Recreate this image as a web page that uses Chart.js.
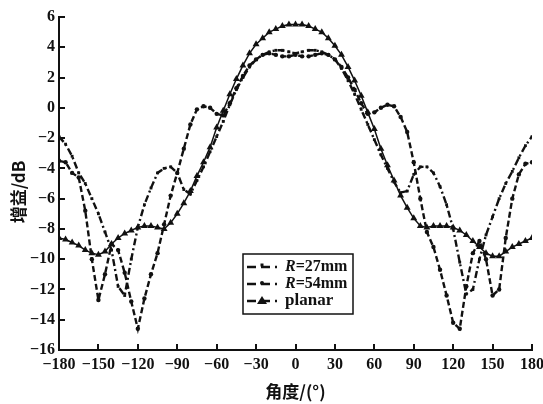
<!DOCTYPE html>
<html>
<head>
<meta charset="utf-8">
<script src="https://cdn.jsdelivr.net/npm/chart.js@4.4.1/dist/chart.umd.min.js"></script>
<style>
  html, body { margin: 0; padding: 0; background: #fff; }
  #wrap { width: 543px; height: 404px; }
</style>
</head>
<body>
<div id="wrap"><canvas id="gainChart" width="543" height="404"></canvas></div>
<script>
/* ── data ── */
const angles = [
  -180, -175, -170, -165, -160, -155, -150, -145, -140, -135, -130, -125,
  -120, -115, -110, -105, -100,  -95,  -90,  -85,  -80,  -75,  -70,  -65,
   -60,  -55,  -50,  -45,  -40,  -35,  -30,  -25,  -20,  -15,  -10,   -5,
     0,    5,   10,   15,   20,   25,   30,   35,   40,   45,   50,   55,
    60,   65,   70,   75,   80,   85,   90,   95,  100,  105,  110,  115,
   120,  125,  130,  135,  140,  145,  150,  155,  160,  165,  170,  175, 180
];

const gainR27 = [
  -1.9, -2.4, -3.2, -4.3, -5.0, -6.0, -7.0, -8.2, -9.4, -11.8, -12.4, -10.0,
  -7.9, -6.4, -5.3, -4.3, -4.0, -3.9, -4.3, -5.4, -5.7, -4.8, -3.9, -2.9,
  -1.9, -0.9,  0.2,  1.2,  2.0,  2.7,  3.2,  3.5,  3.7,  3.8,  3.8,  3.7,
   3.6,  3.7,  3.8,  3.8,  3.7,  3.5,  3.2,  2.6,  1.8,  0.9, -0.1, -1.1,
  -2.1, -3.1, -4.0, -4.9, -5.6, -5.5, -4.4, -3.9, -3.9, -4.3, -5.2, -6.4,
  -8.0, -10.2, -12.3, -12.0, -10.0, -8.4, -7.2, -6.0, -5.0, -4.2, -3.3, -2.5, -1.9
];

const gainR54 = [
  -3.5, -3.6, -4.3, -4.6, -6.8, -10.0, -12.7, -11.0, -9.0, -9.4, -10.9, -12.8,
  -14.6, -12.6, -11.0, -9.6, -7.7, -5.8, -4.3, -2.7, -1.1, -0.1,  0.1,  0.0,
  -0.4, -0.5,  0.3,  1.3,  2.1,  2.8,  3.2,  3.5,  3.6,  3.5,  3.4,  3.4,
   3.5,  3.4,  3.4,  3.5,  3.6,  3.5,  3.2,  2.7,  2.0,  1.2,  0.3, -0.4,
  -0.3,  0.0,  0.2,  0.1, -0.6, -1.6, -3.6, -6.0, -8.2, -9.2, -10.7, -12.4,
  -14.2, -14.6, -11.8, -9.6, -8.8, -10.0, -12.4, -12.0, -8.6, -6.0, -4.4, -3.7, -3.6
];

const gainPlanar = [
  -8.6, -8.7, -8.9, -9.1, -9.4, -9.6, -9.7, -9.5, -9.0, -8.6, -8.3, -8.1,
  -7.9, -7.8, -7.8, -7.9, -8.0, -7.6, -7.0, -6.3, -5.5, -4.5, -3.6, -2.6,
  -1.3, -0.2,  0.9,  1.9,  2.8,  3.6,  4.2,  4.6,  5.0,  5.2,  5.4,  5.5,
   5.5,  5.5,  5.4,  5.2,  5.0,  4.6,  4.1,  3.5,  2.7,  1.8,  0.8, -0.3,
  -1.4, -2.7, -3.8, -4.8, -5.8, -6.6, -7.3, -7.8, -7.9, -7.8, -7.8, -7.8,
  -7.9, -8.1, -8.4, -8.8, -9.2, -9.6, -9.8, -9.8, -9.5, -9.2, -9.0, -8.8, -8.6
];

const xTicks = [-180, -150, -120, -90, -60, -30, 0, 30, 60, 90, 120, 150, 180];
const yTicks = [-16, -14, -12, -10, -8, -6, -4, -2, 0, 2, 4, 6];

const seriesNames = ['R=27mm', 'R=54mm', 'planar'];

const INK       = '#111';
const TICK_FONT = { family: '"Liberation Serif", "DejaVu Serif", serif', weight: 'bold', size: 16 };
const CJK_FONT  = { family: '"Noto Sans CJK SC", sans-serif', weight: 'bold', size: 17 };

const toPts = arr => arr.map((v, i) => ({ x: angles[i], y: v }));
const fmtMinus = v => String(v).replace('-', '\u2212');

/* ─── inward tick marks ─────────────────────────────────── */
const inwardTicks = {
  id: 'inwardTicks',
  afterDraw(chart) {
    const { ctx, chartArea: a, scales: { x, y } } = chart;
    ctx.save();
    ctx.strokeStyle = INK;
    ctx.lineWidth   = 2;
    ctx.beginPath();
    xTicks.forEach(v => {
      const px = Math.round(x.getPixelForValue(v));
      ctx.moveTo(px, a.bottom);
      ctx.lineTo(px, a.bottom - 6);
    });
    yTicks.forEach(v => {
      const py = Math.round(y.getPixelForValue(v));
      ctx.moveTo(a.left, py);
      ctx.lineTo(a.left + 6, py);
    });
    ctx.stroke();
    ctx.restore();
  },
};

/* ─── boxed legend inside the plot ─────────────────────── */
const boxLegend = {
  id: 'boxLegend',
  afterDraw(chart) {
    const ctx = chart.ctx;
    const box = { x: 243, y: 254, w: 110, h: 60 };
    ctx.save();
    ctx.fillStyle = '#fff';
    ctx.fillRect(box.x, box.y, box.w, box.h);
    ctx.strokeStyle = INK;
    ctx.lineWidth   = 1.5;
    ctx.strokeRect(box.x, box.y, box.w, box.h);

    const rows = [267, 284, 301];
    chart.data.datasets.forEach((ds, i) => {
      const cy = rows[i];
      ctx.strokeStyle = INK;
      ctx.lineWidth   = 2.5;
      ctx.setLineDash([9, 5]);
      ctx.beginPath();
      ctx.moveTo(247, cy);
      ctx.lineTo(277, cy);
      ctx.stroke();
      ctx.setLineDash([]);
      ctx.fillStyle = INK;
      ctx.beginPath();
      if (ds.pointStyle === 'triangle') {
        ctx.moveTo(262, cy - 5); ctx.lineTo(267, cy + 3); ctx.lineTo(257, cy + 3);
      } else if (ds.pointStyle === 'rect') {
        ctx.rect(260.5, cy - 3.5, 3, 3);
      } else {
        ctx.arc(262, cy - 1, 2, 0, Math.PI * 2);
      }
      ctx.fill();

      ctx.textBaseline = 'middle';
      ctx.textAlign    = 'left';
      const name = seriesNames[i];
      let tx = 285;
      if (name.startsWith('R')) {
        ctx.font = 'italic bold 16px "Liberation Serif", serif';
        ctx.fillText('R', tx, cy);
        tx += ctx.measureText('R').width;
        ctx.font = 'bold 16px "Liberation Serif", serif';
        ctx.fillText(name.slice(1), tx, cy);
      } else {
        ctx.font = 'bold 17px "Liberation Serif", serif';
        ctx.fillText(name, tx, cy);
      }
    });
    ctx.restore();
  },
};

new Chart(document.getElementById('gainChart'), {
  type: 'line',
  data: {
    datasets: [
      {
        label          : seriesNames[0],
        data           : toPts(gainR27),
        borderColor    : INK,
        backgroundColor: INK,
        borderWidth    : 2.4,
        borderDash     : [7, 3, 2, 3],
        pointStyle     : 'rect',
        pointRadius    : 2,
        pointBorderWidth: 0,
      },
      {
        label          : seriesNames[1],
        data           : toPts(gainR54),
        borderColor    : INK,
        backgroundColor: INK,
        borderWidth    : 2.4,
        borderDash     : [6, 3],
        pointStyle     : 'circle',
        pointRadius    : 2.2,
        pointBorderWidth: 0,
      },
      {
        label          : seriesNames[2],
        data           : toPts(gainPlanar),
        borderColor    : INK,
        backgroundColor: INK,
        borderWidth    : 1.5,
        pointStyle     : 'triangle',
        pointRadius    : 4,
        pointBorderWidth: 0,
      },
    ],
  },
  options: {
    responsive: false,
    animation : false,
    devicePixelRatio: 1,
    layout: { padding: { top: 17, right: 11, left: 0, bottom: 0 } },
    plugins: { legend: { display: false }, tooltip: { enabled: false } },
    elements: { line: { tension: 0 } },
    scales: {
      x: {
        type: 'linear',
        min : -180,
        max : 180,
        afterBuildTicks: s => { s.ticks = xTicks.map(v => ({ value: v })); },
        afterFit: s => { s.height = 54; s.paddingLeft = 0; s.paddingRight = 0; },
        grid  : { display: false, drawTicks: false },
        border: { display: true, color: INK, width: 2 },
        ticks : { color: INK, font: TICK_FONT, padding: 5, maxRotation: 0, callback: fmtMinus },
        title : { display: true, text: '角度/(°)', color: INK, font: CJK_FONT, padding: { top: 0, bottom: 2 } },
      },
      y: {
        min: -16,
        max: 6,
        afterBuildTicks: s => { s.ticks = yTicks.map(v => ({ value: v })); },
        afterFit: s => { s.width = 59; s.paddingTop = 0; s.paddingBottom = 0; },
        grid  : { display: false, drawTicks: false },
        border: { display: true, color: INK, width: 2 },
        ticks : { color: INK, font: TICK_FONT, padding: 4, callback: fmtMinus },
        // trailing ideographic space nudges the rotated title a little lower, as in the figure
        title : { display: true, text: '增益/dB\u3000', color: INK, font: CJK_FONT, padding: { top: 8, bottom: 0 } },
      },
    },
  },
  plugins: [inwardTicks, boxLegend],
});
</script>
</body>
</html>
